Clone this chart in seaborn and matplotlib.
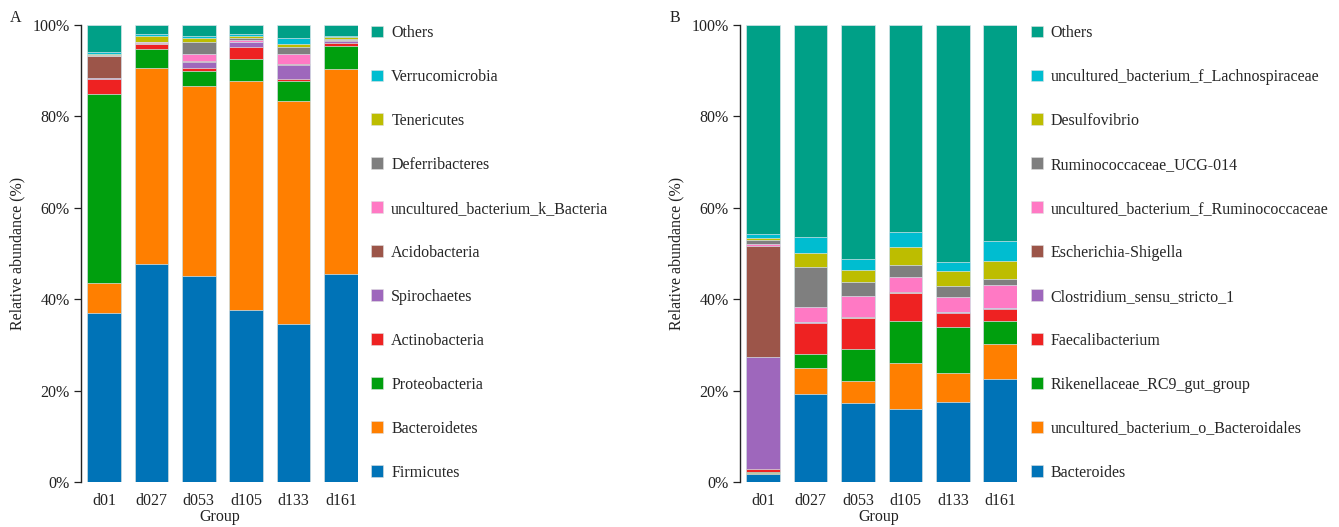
import numpy as np
import pandas as pd
import matplotlib
matplotlib.use("Agg")
import matplotlib.pyplot as plt
from matplotlib.patches import Patch
import seaborn as sns

# ---------------- data ----------------
groups = ["d01", "d027", "d053", "d105", "d133", "d161"]

taxa_a = ["Firmicutes", "Bacteroidetes", "Proteobacteria", "Actinobacteria",
          "Spirochaetes", "Acidobacteria", "uncultured_bacterium_k_Bacteria",
          "Deferribacteres", "Tenericutes", "Verrucomicrobia", "Others"]
firmicutes      = [36.9, 47.7, 45.1, 37.7, 34.5, 45.5]
bacteroidetes   = [6.6, 43.0, 41.6, 50.1, 48.9, 44.9]
proteobacteria  = [41.5, 4.0, 3.3, 4.7, 4.3, 5.1]
actinobacteria  = [3.2, 1.1, 0.5, 2.6, 0.5, 0.5]
spirochaetes    = [0.1, 0.1, 1.5, 1.1, 3.0, 0.5]
acidobacteria   = [4.9, 0.2, 0.1, 0.1, 0.2, 0.2]
uncult_k_bact   = [0.1, 0.1, 1.6, 0.5, 2.3, 0.1]
deferribacteres = [0.2, 0.1, 2.5, 0.4, 1.4, 0.2]
tenericutes     = [0.2, 1.2, 0.9, 0.3, 0.7, 0.3]
verrucomicrobia = [0.5, 0.5, 0.6, 0.5, 1.3, 0.2]
others_a        = [5.8, 2.0, 2.3, 2.0, 2.9, 2.5]
values_a = [firmicutes, bacteroidetes, proteobacteria, actinobacteria, spirochaetes,
            acidobacteria, uncult_k_bact, deferribacteres, tenericutes,
            verrucomicrobia, others_a]

taxa_b = ["Bacteroides", "uncultured_bacterium_o_Bacteroidales",
          "Rikenellaceae_RC9_gut_group", "Faecalibacterium",
          "Clostridium_sensu_stricto_1", "Escherichia-Shigella",
          "uncultured_bacterium_f_Ruminococcaceae", "Ruminococcaceae_UCG-014",
          "Desulfovibrio", "uncultured_bacterium_f_Lachnospiraceae", "Others"]
bacteroides     = [1.7, 19.3, 17.3, 16.0, 17.5, 22.5]
uncult_o_bacter = [0.2, 5.7, 4.7, 10.0, 6.4, 7.7]
rikenellaceae   = [0.3, 2.9, 7.0, 9.3, 10.1, 5.0]
faecalibacter   = [0.6, 7.0, 6.8, 6.0, 3.0, 2.7]
clostridium     = [24.5, 0.1, 0.1, 0.1, 0.1, 0.1]
escherichia     = [24.4, 0.1, 0.1, 0.1, 0.1, 0.1]
uncult_f_rumino = [0.3, 3.2, 4.8, 3.3, 3.2, 5.1]
rumino_ucg014   = [1.0, 8.7, 2.9, 2.7, 2.4, 1.2]
desulfovibrio   = [0.5, 3.2, 2.7, 3.9, 3.3, 4.0]
uncult_f_lachno = [0.7, 3.5, 2.5, 3.4, 2.1, 4.4]
others_b        = [45.8, 46.3, 51.1, 45.2, 51.8, 47.2]
values_b = [bacteroides, uncult_o_bacter, rikenellaceae, faecalibacter, clostridium,
            escherichia, uncult_f_rumino, rumino_ucg014, desulfovibrio,
            uncult_f_lachno, others_b]

palette = ["#0073B7", "#FF7F00", "#009F0E", "#EE2222", "#9E67BC", "#9C5549",
           "#FF79C4", "#7F7F7F", "#BDBD00", "#00BDD0", "#00A087"]

yticks = [0, 20, 40, 60, 80, 100]
ytick_labels = ["0%", "20%", "40%", "60%", "80%", "100%"]

# ---------------- style ----------------
sns.set_style("white")
plt.rcParams["font.family"] = ["Liberation Serif", "DejaVu Serif"]
FS = 11.5
plt.rcParams["font.size"] = FS

fig = plt.figure(figsize=(13.39, 5.27), dpi=100)
W, H = 1339, 527
ax_a = fig.add_axes([80.7 / W, 1 - 482 / H, (358 - 80.7) / W, 457 / H])
ax_b = fig.add_axes([740 / W, 1 - 482 / H, (1017.3 - 740) / W, 457 / H])


def stacked(ax, taxa, values, legend_x, letter, letter_x):
    df = pd.DataFrame({t: v for t, v in zip(taxa, values)}, index=groups)
    cum = df.cumsum(axis=1)
    # draw from the top layer down so lower layers overlay the taller ones
    for i in range(len(taxa) - 1, -1, -1):
        sns.barplot(x=groups, y=cum[taxa[i]].values, color=palette[i],
                    saturation=1, width=0.71, errorbar=None, ax=ax,
                    edgecolor="#d8e4ea", linewidth=0.5, order=groups)
    ax.set_xlim(-0.49, 5.36)
    ax.set_ylim(0, 100)
    ax.set_yticks(yticks)
    ax.set_yticklabels(ytick_labels)
    for s in ["top", "right", "bottom"]:
        ax.spines[s].set_visible(False)
    ax.spines["left"].set_color("#222222")
    ax.spines["left"].set_linewidth(1.0)
    ax.tick_params(axis="y", direction="out", length=5, width=0.9,
                   pad=3, colors="#222222", labelsize=FS, left=True)
    ax.tick_params(axis="x", length=0, pad=8, labelsize=FS, colors="#222222")
    ax.set_xlabel("Group", fontsize=FS, labelpad=0, color="#222222")
    ax.set_ylabel("Relative abundance (%)", fontsize=FS, labelpad=5,
                  color="#222222")
    handles = [Patch(facecolor=palette[i], edgecolor="#e0e0e0", linewidth=0.4,
                     label=taxa[i]) for i in range(len(taxa) - 1, -1, -1)]
    fig.legend(handles=handles, loc="upper left",
               bbox_to_anchor=(legend_x / W, 1 - 25 / H),
               frameon=False, fontsize=FS, handlelength=0.75,
               handleheight=0.75, handletextpad=0.5, labelspacing=1.75,
               borderpad=0, borderaxespad=0)
    fig.text(letter_x / W, 1 - 22 / H, letter, fontsize=FS, va="baseline",
             color="#222222")


stacked(ax_a, taxa_a, values_a, 371.3, "A", 10)
stacked(ax_b, taxa_b, values_b, 1030.7, "B", 670)

fig.savefig("out.png", dpi=100)
